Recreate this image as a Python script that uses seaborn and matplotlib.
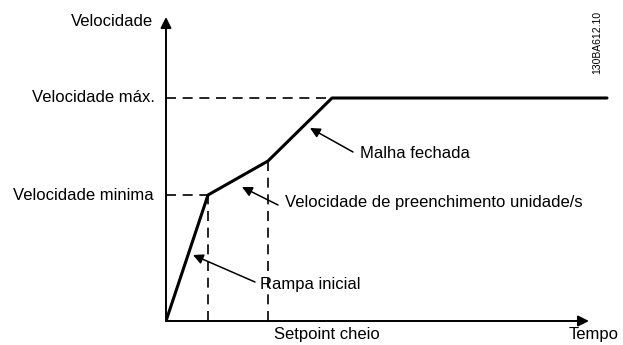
import matplotlib
matplotlib.use('Agg')
import matplotlib.pyplot as plt
import seaborn as sns
import pandas as pd

# curva de velocidade (unidades arbitrárias: tempo, velocidade)
tempo = [0, 42, 102, 166, 441]
velocidade = [0, 126, 160, 223, 223]
v_min = 126
v_max = 223
t_min = 42
t_setpoint = 102

sns.set_theme(style='white')
plt.rcParams['font.family'] = ['Liberation Sans', 'DejaVu Sans']

fig = plt.figure(figsize=(6.23, 3.45), dpi=100)
# origem dos eixos em (166, 321) px
ax = fig.add_axes([166 / 623, 24 / 345, 457 / 623, 321 / 345])
ax.set_xlim(0, 457)
ax.set_ylim(0, 321)
ax.axis('off')

df = pd.DataFrame({'Tempo': tempo, 'Velocidade': velocidade})
sns.lineplot(data=df, x='Tempo', y='Velocidade', color='black', lw=2.2, ax=ax)

# eixos com setas
seta = dict(arrowstyle='-|>', color='black', lw=1.4, mutation_scale=16,
            shrinkA=0, shrinkB=0)
ax.annotate('', xy=(0, 304), xytext=(0, 0), arrowprops=seta, annotation_clip=False)
ax.annotate('', xy=(423, 0), xytext=(0, 0), arrowprops=seta, annotation_clip=False)

# linhas tracejadas
tr = dict(color='black', lw=1.2, ls=(0, (6, 4)))
ax.plot([0, tempo[3]], [v_max, v_max], **tr)
ax.plot([0, t_min], [v_min, v_min], **tr)
ax.plot([t_min, t_min], [0, v_min], **tr)
ax.plot([t_setpoint, t_setpoint], [0, velocidade[2]], **tr)

fs = 12
kw = dict(fontsize=fs, color='black', clip_on=False)
ax.text(-13, 299, 'Velocidade', ha='right', va='center', **kw)
ax.text(-11, v_max, 'Velocidade máx.', ha='right', va='center', **kw)
ax.text(-12, v_min, 'Velocidade minima', ha='right', va='center', **kw)
ax.text(161, -14, 'Setpoint cheio', ha='center', va='center', **kw)
ax.text(428, -14, 'Tempo', ha='center', va='center', **kw)
ax.text(431, 279, '130BA612.10', rotation=90, ha='center', va='center',
        fontsize=7.5, color='black', clip_on=False)

# anotações: seta (cauda -> ponta) e texto
seta2 = dict(arrowstyle='-|>', color='black', lw=1.1, mutation_scale=15,
             shrinkA=0, shrinkB=0)
anotacoes = [
    ('Malha fechada', (144, 193), (187, 169), (194, 168)),
    ('Velocidade de preenchimento unidade/s', (76, 134), (112, 116), (119, 118)),
    ('Rampa inicial', (27, 66), (89, 39), (94, 36)),
]
for texto, ponta, cauda, pos in anotacoes:
    ax.annotate('', xy=ponta, xytext=cauda, arrowprops=seta2)
    ax.text(pos[0], pos[1], texto, ha='left', va='center', **kw)

fig.savefig('out.png', dpi=100)
